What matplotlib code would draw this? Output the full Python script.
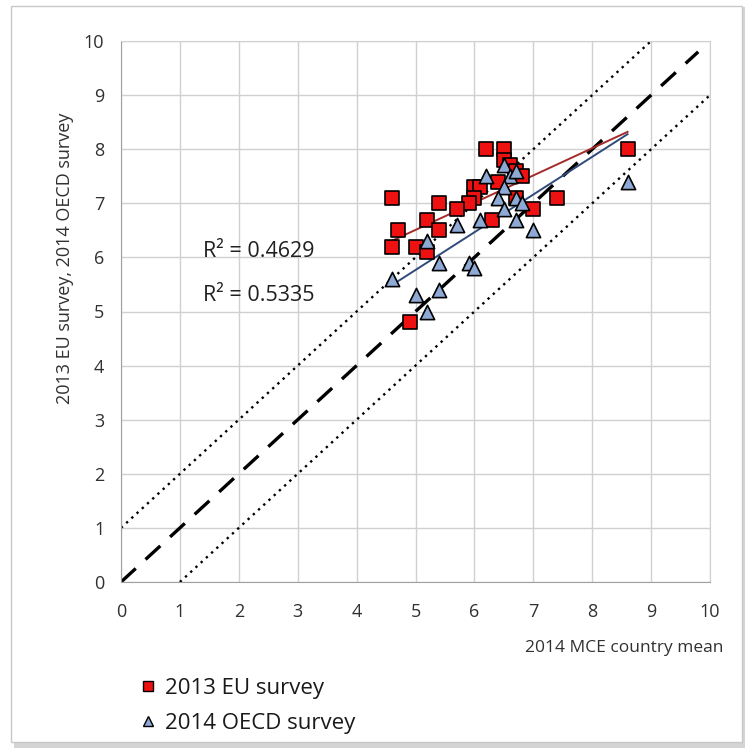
import matplotlib.pyplot as plt
from matplotlib.patches import Rectangle
from matplotlib.lines import Line2D
import numpy as np

# 2013 EU survey (red squares)
eu_x = [6.2, 6.5, 6.5, 6.6, 6.7, 6.8, 6.4, 6.0, 6.1, 6.0, 5.9, 5.7, 5.4, 4.6, 7.4,
        7.0, 6.3, 5.2, 4.7, 5.4, 4.6, 5.0, 5.2, 4.9, 8.6, 6.7]
eu_y = [8.0, 8.0, 7.8, 7.7, 7.6, 7.5, 7.4, 7.3, 7.3, 7.1, 7.0, 6.9, 7.0, 7.1, 7.1,
        6.9, 6.7, 6.7, 6.5, 6.5, 6.2, 6.2, 6.1, 4.8, 8.0, 7.1]

# 2014 OECD survey (blue triangles)
oecd_x = [6.5, 6.2, 6.6, 6.7, 6.5, 6.4, 6.7, 6.8, 6.5, 6.1, 6.7, 5.7, 7.0, 5.2,
          5.4, 5.9, 6.0, 4.6, 5.0, 5.4, 5.2, 8.6]
oecd_y = [7.7, 7.5, 7.5, 7.6, 7.3, 7.1, 7.1, 7.0, 6.9, 6.7, 6.7, 6.6, 6.5, 6.3,
          5.9, 5.9, 5.8, 5.6, 5.3, 5.4, 5.0, 7.4]

r2_labels = ["R\u00b2 = 0.4629", "R\u00b2 = 0.5335"]

plt.rcParams['font.family'] = ['Open Sans', 'DejaVu Sans']

fig = plt.figure(figsize=(7.45, 7.49), dpi=100, facecolor="white")
ax = fig.add_axes([121 / 745, 1 - 582 / 749, 589 / 745, 541 / 749])

# outer frame with a soft shadow
fig.patches.append(Rectangle((14 / 745, 1 - 748 / 749), 731 / 745, 741 / 749,
                             transform=fig.transFigure, facecolor="#d4d4d4",
                             edgecolor="none", zorder=-3))
fig.patches.append(Rectangle((11 / 745, 1 - 742 / 749), 731 / 745, 736 / 749,
                             transform=fig.transFigure, facecolor="white",
                             edgecolor="#c8c8c8", linewidth=1.0, zorder=-2))

# reference lines
ax.plot([0, 9.8], [0, 9.8], color="black", linestyle=(0, (6, 4)), linewidth=2.4, zorder=2)
ax.plot([0, 9], [1, 10], color="black", linestyle=(0, (1, 2)), linewidth=1.7, zorder=2)
ax.plot([1, 10], [0, 9], color="black", linestyle=(0, (1, 2)), linewidth=1.7, zorder=2)

# trend lines
for xs, ys, col in [(eu_x, eu_y, "#a52a2a"), (oecd_x, oecd_y, "#2f4a7a")]:
    k, b = np.polyfit(xs, ys, 1)
    xx = np.array([min(xs), max(xs)])
    ax.plot(xx, k * xx + b, color=col, linewidth=1.4, zorder=3)

ax.scatter(eu_x, eu_y, marker="s", s=110, facecolor="#ee1111", edgecolor="black",
           linewidth=1.2, zorder=4)
ax.scatter(oecd_x, oecd_y, marker="^", s=105, facecolor="#8ea9d4", edgecolor="black",
           linewidth=1.2, zorder=5)

ax.text(1.4, 6.1, r2_labels[0], fontsize=15.5, va="center", ha="left", color="#202020")
ax.text(1.4, 5.3, r2_labels[1], fontsize=15.5, va="center", ha="left", color="#202020")

ax.set_xlim(0, 10)
ax.set_ylim(0, 10)
ax.set_xticks(range(11))
ax.set_yticks(range(11))
ax.grid(True, color="#d0d0d0", linewidth=1.0)
ax.set_axisbelow(True)
for sp in ax.spines.values():
    sp.set_color("#d0d0d0")
ax.spines["left"].set_color("#a0a0a0")
ax.spines["bottom"].set_color("#a0a0a0")
ax.tick_params(axis="x", length=0, labelsize=13, colors="#303030", pad=15)
ax.tick_params(axis="y", length=0, labelsize=13, colors="#303030", pad=12)

fig.text(723 / 745, 1 - 648 / 749, "2014 MCE country mean", ha="right", va="center",
         fontsize=12.5, color="#303030")
fig.text(65 / 745, 1 - 258 / 749, "2013 EU survey, 2014 OECD survey", rotation=90,
         ha="center", va="center", fontsize=13, color="#303030")

handles = [Line2D([], [], marker="s", linestyle="none", markersize=7.5,
                  markerfacecolor="#ee1111", markeredgecolor="black", label="2013 EU survey"),
           Line2D([], [], marker="^", linestyle="none", markersize=7.5,
                  markerfacecolor="#8ea9d4", markeredgecolor="black", label="2014 OECD survey")]
fig.legend(handles=handles, loc="upper left", bbox_to_anchor=(128 / 745, 1 - 669 / 749),
           frameon=False, fontsize=16, handletextpad=0.25, labelspacing=0.62,
           handlelength=1.0, borderaxespad=0, labelcolor="#1a1a1a")

fig.savefig("out.png", dpi=100, facecolor="white")
